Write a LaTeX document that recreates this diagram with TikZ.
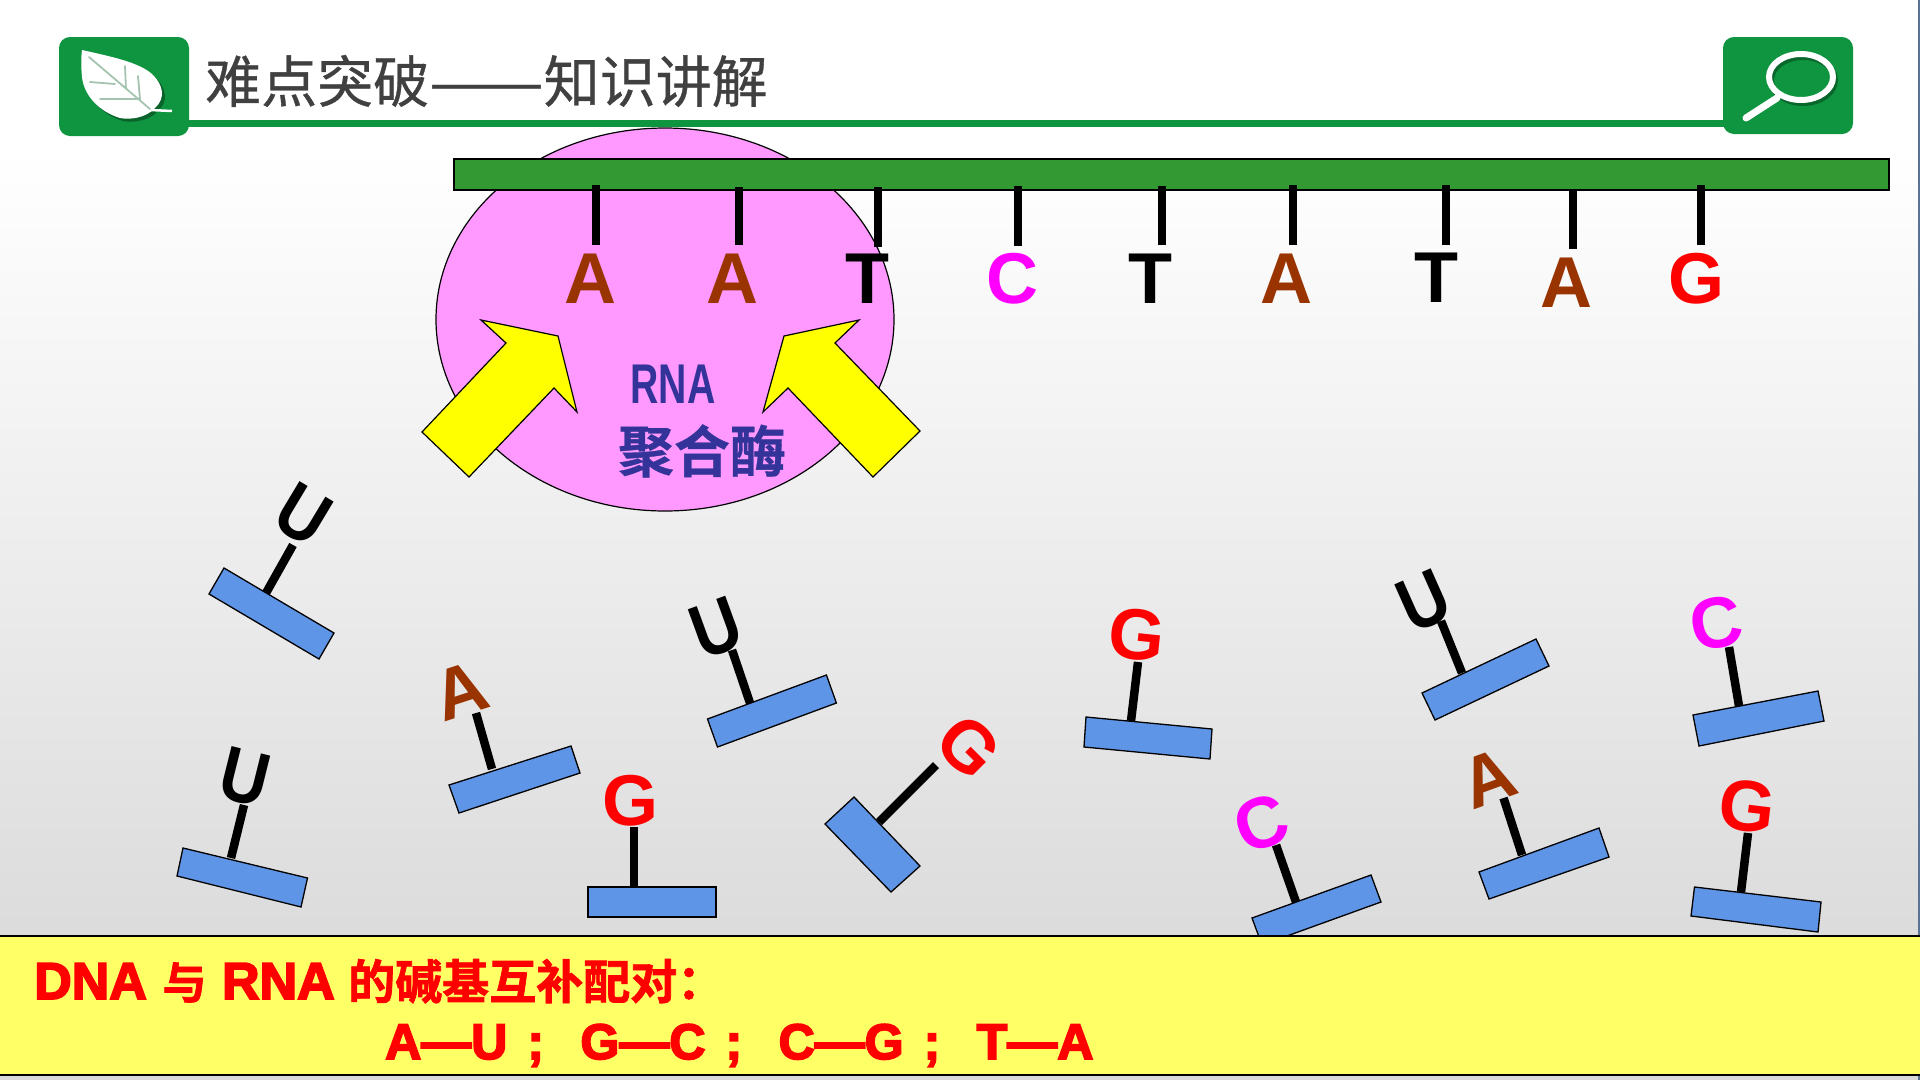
\documentclass[tikz,border=0pt]{standalone}
\usepackage{fontspec}
\setmainfont{Liberation Sans}
\newfontfamily\cjkplain[FakeBold=0.6]{Noto Sans CJK SC}
\newfontfamily\cjkheavy[FakeBold=0.6]{Noto Sans CJK SC Bold}
\newfontfamily\latinheavy[FakeBold=3.5]{Liberation Sans Bold}
\newfontfamily\cjkblack[FakeBold=1.6]{Noto Sans CJK SC Bold}
\definecolor{icongreen}{HTML}{0F9440}
\definecolor{strandgreen}{HTML}{339933}
\definecolor{enzymepink}{HTML}{FF99FF}
\definecolor{blockblue}{HTML}{5F95E6}
\definecolor{baseA}{HTML}{993300}
\definecolor{baseC}{HTML}{FF00FF}
\definecolor{baseG}{HTML}{FF0000}
\definecolor{baseT}{HTML}{000000}
\definecolor{baseU}{HTML}{000000}
\definecolor{enzymeink}{HTML}{333399}
\definecolor{noteyellow}{HTML}{FFFF66}
\definecolor{pushyellow}{HTML}{FFFF00}
\definecolor{notered}{HTML}{FF0000}
\definecolor{framebluegrey}{HTML}{5A7395}
\definecolor{leafvein}{HTML}{A5C4B0}
\tikzset{
  stemline/.style={line width=8.5pt,black,line cap=butt},
  blockbar/.style={fill=blockblue,draw=black,line width=1.3pt,line join=miter},
  letterbase/.style={inner sep=0pt,font=\bfseries\fontsize{72}{72}\selectfont},
  pushar/.style={fill=pushyellow,draw=black,line width=1.2pt,line join=miter},
  iconbox/.style={fill=icongreen,rounded corners=11pt},
}
% One nucleotide: name, stem start, stem end, letter position, rotation, base, letter as set
\newcommand{\shapednucleotide}[7]{%
  \coordinate (#1a) at (#2);
  \coordinate (#1b) at (#3);
  \draw[stemline] (#1a) -- (#1b);
  \node[letterbase,text=base#6,rotate=#5] (#1) at (#4) {#7};
}
\newcommand{\nucleotide}[6]{\shapednucleotide{#1}{#2}{#3}{#4}{#5}{#6}{#6}}
\newcommand{\uracil}[5]{\shapednucleotide{#1}{#2}{#3}{#4}{#5}{U}{\scalebox{0.92}[1.06]{U}}}
\begin{document}
\begin{tikzpicture}[x=1pt,y=-1pt]
\useasboundingbox (0,0) rectangle (1920,1080);
\clip (0,0) rectangle (1920,1080);

% page background
\fill[white] (0,0) rectangle (1920,150);
\shade[top color=white,bottom color=black!15,shading angle=0] (0,150) rectangle (1920,1000);
\fill[black!15] (0,1000) rectangle (1920,1080);
\fill[framebluegrey] (1918,0) rectangle (1920,1080);

% header line and icons
\fill[icongreen] (185,120) rectangle (1730,127);
\fill[iconbox] (59,37) rectangle (189,136);
\fill[iconbox] (1723,37) rectangle (1853,134);

% leaf
\fill[black!60!icongreen,opacity=.55,xshift=3pt,yshift=-3pt]
  (82,50) .. controls (108,56) and (140,62) .. (153,75)
  .. controls (163,85) and (166,98) .. (155,108)
  .. controls (146,118) and (130,120) .. (120,118)
  .. controls (100,112) and (84,96) .. (82,77)
  .. controls (81,66) and (81,58) .. (82,50) -- cycle;
\fill[white] (82,50) .. controls (108,56) and (140,62) .. (153,75)
  .. controls (163,85) and (166,98) .. (155,108)
  .. controls (146,118) and (130,120) .. (120,118)
  .. controls (100,112) and (84,96) .. (82,77)
  .. controls (81,66) and (81,58) .. (82,50) -- cycle;
\draw[white,line width=2.5pt] (150,110) -- (172,111);
\draw[leafvein,line width=1.8pt,line cap=round]
  (89,57) -- (150,109)
  (125,66) -- (126,89)
  (138,76) -- (140,99)
  (90,82) -- (115,84)
  (100,99) -- (137,99);

% magnifier
\draw[black!60!icongreen,opacity=.5,line width=6pt] (1803,80) ellipse [x radius=32,y radius=23];
\draw[white,line width=6pt] (1801,77) ellipse [x radius=32,y radius=23];
\draw[white,line width=7pt,line cap=round] (1777,98) -- (1746,118);

% title
\node[anchor=west,inner sep=0pt,text=black!75,font=\cjkplain\fontsize{56}{56}\selectfont] (title)
  at (205,81) {难点突破\scalebox{1.22}[1]{——}知识讲解};

% RNA polymerase
\draw[fill=enzymepink,draw=black,line width=1.2pt] (665,319.5) ellipse [x radius=229,y radius=191.5];

% DNA strand
\draw[fill=strandgreen,draw=black,line width=1.3pt] (454,159) rectangle (1889,190);
\nucleotide{t1}{596,185}{596,245}{590,279}{0}{A}
\nucleotide{t2}{739,187}{739,245}{732,279}{0}{A}
\nucleotide{t3}{878,187}{878,247}{867,279}{0}{T}
\nucleotide{t4}{1018,186}{1018,246}{1012,279}{0}{C}
\nucleotide{t5}{1162,186}{1162,245}{1150,279}{0}{T}
\nucleotide{t6}{1293,185}{1293,245}{1286,279}{0}{A}
\nucleotide{t7}{1446,185}{1446,245}{1436,278}{0}{T}
\nucleotide{t8}{1573,189}{1573,249}{1566,283}{0}{A}
\nucleotide{t9}{1701,185}{1701,245}{1696,279}{0}{G}

% arrows into the enzyme
\draw[pushar] (481,320) -- (558,336) -- (577,412) -- (554,388) -- (469,477) -- (422,432) -- (506,343) -- cycle;
\draw[pushar] (859,320) -- (784,336) -- (763,412) -- (788,388) -- (873,477) -- (920,431) -- (835,343) -- cycle;

\node[inner sep=0pt,text=enzymeink,font=\bfseries\fontsize{56}{56}\selectfont] (rnalabel) at (673,384)
  {\scalebox{0.7}[1]{RNA}};
\node[inner sep=0pt,text=enzymeink,font=\cjkheavy\fontsize{56}{56}\selectfont] (enzymelabel) at (702,451) {聚合酶};

% free nucleotides
\uracil{u1}{266,593}{293,545}{303,515}{-31}
\path[blockbar] (224,568) -- (334,633) -- (319,659) -- (209,594) -- cycle;
\uracil{u2}{231,858}{244,805}{245,777}{-14}
\path[blockbar] (183,848) -- (307.5,878) -- (301,907) -- (177,876) -- cycle;
\nucleotide{a1}{492,769}{476,713}{461,691}{18}{A}
\path[blockbar] (449,785) -- (571,746) -- (580,773) -- (459,813) -- cycle;
\nucleotide{g1}{634,887}{634,827}{630,801}{0}{G}
\path[blockbar] (588,887) -- (716,887) -- (716,917) -- (588,917) -- cycle;
\uracil{u3}{750,703}{732,650}{716,628}{20}
\path[blockbar] (707.5,719) -- (826.4,675) -- (836.4,703) -- (717.5,747) -- cycle;
\nucleotide{g2}{879,822}{936,765}{969,747}{-45}{G}
\path[blockbar] (854,797) -- (920,866) -- (891,892) -- (825,824) -- cycle;
\nucleotide{g3}{1131,721}{1138,662}{1137,635}{-6}{G}
\path[blockbar] (1086,717) -- (1212,729) -- (1210,759) -- (1084,747) -- cycle;
\uracil{u4}{1462,673}{1441,621}{1424,601}{24}
\path[blockbar] (1422,693) -- (1536,639) -- (1549,666) -- (1435,720) -- cycle;
\nucleotide{c1}{1739,706}{1729,647}{1716,623}{11}{C}
\path[blockbar] (1693,715) -- (1818,691) -- (1824,721) -- (1699,746) -- cycle;
\nucleotide{c2}{1296,902}{1276,845}{1261,823}{20}{C}
\path[blockbar] (1252,918) -- (1371,875) -- (1381,902) -- (1262,945) -- cycle;
\nucleotide{a2}{1522,855}{1503.5,798}{1488,778}{20}{A}
\path[blockbar] (1479,872) -- (1599,828) -- (1609,857) -- (1489,899) -- cycle;
\nucleotide{g4}{1741,892}{1748,833}{1747,806}{-7}{G}
\path[blockbar] (1694.5,887) -- (1821,902) -- (1818,932) -- (1691,916) -- cycle;

% pairing note
\draw[fill=noteyellow,draw=black,line width=1.3pt] (-3,936) rectangle (1923,1075);
\node[anchor=base west,inner sep=0pt,text=notered,font=\latinheavy\fontsize{52}{52}\selectfont] (noteone) at (34,999)
  {DNA\hspace{0.3em}{\cjkblack\fontsize{44}{44}\selectfont 与}\hspace{0.3em}RNA\hspace{0.26em}{\cjkblack\fontsize{47}{47}\selectfont 的碱基互补配对：}};
\node[anchor=base west,inner sep=0pt,text=notered,font=\latinheavy\fontsize{50}{50}\selectfont] (notetwo) at (385,1059)
  {A—U\hspace{0.4em};\hspace{0.73em}G—C\hspace{0.4em};\hspace{0.73em}C—G\hspace{0.4em};\hspace{0.73em}T—A};
\end{tikzpicture}
\end{document}
